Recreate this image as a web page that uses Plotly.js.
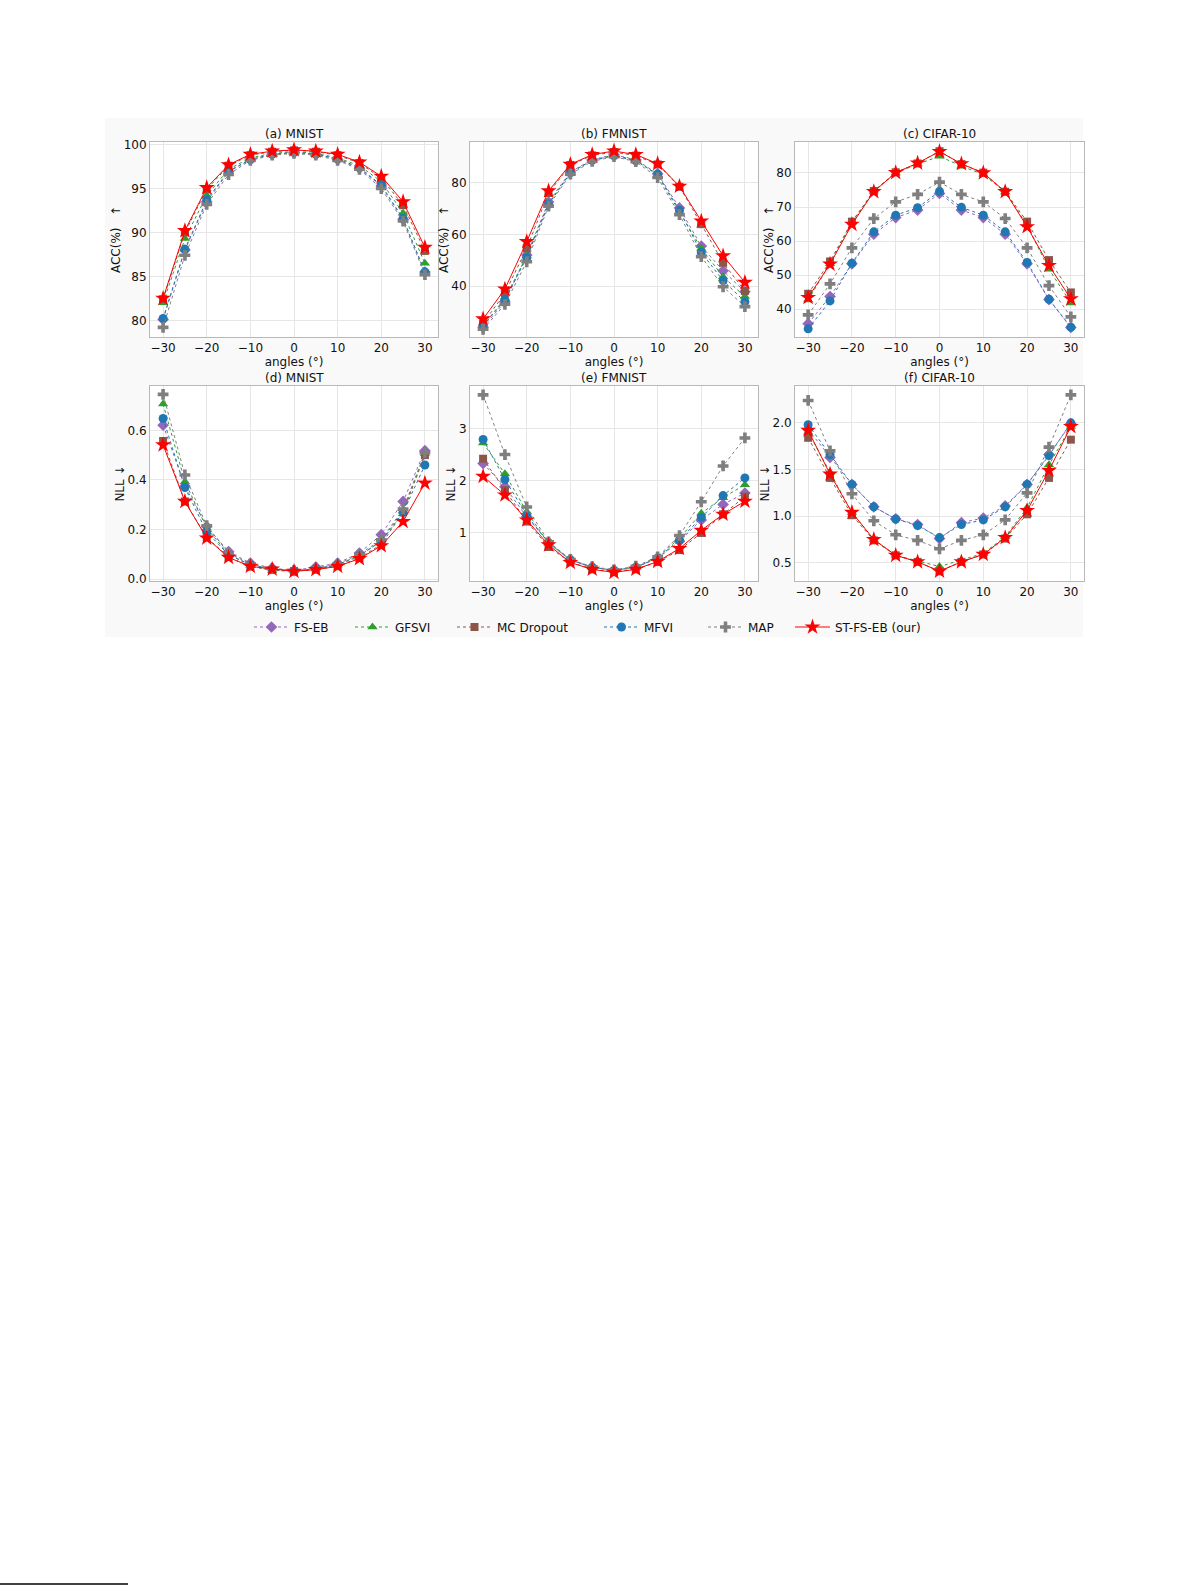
<!DOCTYPE html>
<html>
<head>
<meta charset="utf-8">
<script src="https://cdn.plot.ly/plotly-3.0.1.min.js"></script>
<style>
  html, body { margin: 0; padding: 0; background: #fff; }
  #myDiv { width: 1192px; height: 1585px; }
</style>
</head>
<body>
<div id="myDiv"></div>
<script>
var angles = [-30, -25, -20, -15, -10, -5, 0, 5, 10, 15, 20, 25, 30];
var methods = ['FS-EB', 'GFSVI', 'MC Dropout', 'MFVI', 'MAP', 'ST-FS-EB (our)'];
var panelTitles = ['(a) MNIST', '(b) FMNIST', '(c) CIFAR-10', '(d) MNIST', '(e) FMNIST', '(f) CIFAR-10'];

// rows follow the order of methods
var accMnist = [
  [80.1, 88.0, 93.5, 96.9, 98.3, 98.9, 99.1, 98.9, 98.3, 97.3, 95.3, 91.5, 85.5],
  [82.0, 89.3, 94.2, 97.2, 98.5, 99.0, 99.2, 99.0, 98.5, 97.6, 95.8, 92.2, 86.5],
  [82.4, 90.0, 94.9, 97.6, 98.8, 99.2, 99.35, 99.2, 98.8, 97.9, 96.2, 93.1, 87.9],
  [80.2, 88.1, 93.7, 97.0, 98.3, 98.9, 99.1, 98.9, 98.4, 97.4, 95.4, 91.6, 85.5],
  [79.2, 87.4, 93.2, 96.6, 98.2, 98.8, 99.0, 98.8, 98.2, 97.2, 95.0, 91.3, 85.2],
  [82.5, 90.2, 95.1, 97.7, 98.9, 99.25, 99.4, 99.25, 98.9, 98.0, 96.4, 93.5, 88.3]
];
var accFmnist = [
  [24.0, 33.9, 52.0, 72.6, 84.3, 89.0, 91.0, 89.0, 83.6, 70.3, 55.5, 45.9, 37.8],
  [24.6, 35.2, 51.6, 72.0, 84.0, 88.9, 90.8, 88.9, 83.0, 68.8, 54.6, 43.6, 35.9],
  [25.5, 37.2, 54.6, 76.1, 87.0, 90.7, 92.0, 90.6, 87.2, 78.5, 64.0, 49.0, 38.1],
  [24.6, 34.6, 51.0, 71.7, 83.9, 88.8, 90.5, 88.6, 83.4, 69.4, 53.0, 42.1, 33.9],
  [23.2, 32.9, 49.4, 71.0, 83.4, 88.4, 90.2, 88.3, 82.1, 67.7, 51.4, 39.7, 32.0],
  [27.2, 38.8, 57.2, 76.9, 87.2, 91.0, 92.4, 91.0, 87.5, 78.7, 65.2, 51.7, 41.4]
];
var accCifar = [
  [35.7, 43.7, 53.3, 62.0, 66.9, 69.1, 74.0, 69.1, 66.9, 62.0, 53.3, 42.8, 34.6],
  [42.7, 53.3, 65.5, 74.6, 80.0, 82.6, 84.9, 82.0, 79.6, 74.4, 64.7, 51.7, 41.8],
  [44.5, 54.0, 65.7, 74.7, 80.2, 82.8, 86.4, 82.6, 80.1, 74.5, 65.7, 54.4, 44.9],
  [34.2, 42.4, 53.5, 62.7, 67.6, 69.8, 74.6, 69.9, 67.6, 62.7, 53.7, 42.9, 34.7],
  [38.3, 47.4, 58.0, 66.6, 71.5, 73.7, 77.3, 73.7, 71.5, 66.6, 58.0, 46.9, 37.7],
  [43.4, 53.2, 64.9, 74.5, 80.1, 82.9, 86.3, 82.7, 80.0, 74.5, 64.2, 52.8, 43.0]
];
var nllMnist = [
  [0.621, 0.375, 0.212, 0.111, 0.064, 0.044, 0.034, 0.048, 0.064, 0.105, 0.179, 0.313, 0.518],
  [0.706, 0.393, 0.205, 0.100, 0.055, 0.034, 0.032, 0.040, 0.056, 0.092, 0.155, 0.275, 0.507],
  [0.557, 0.313, 0.168, 0.089, 0.050, 0.036, 0.032, 0.038, 0.052, 0.085, 0.140, 0.270, 0.500],
  [0.648, 0.369, 0.190, 0.098, 0.058, 0.040, 0.033, 0.042, 0.058, 0.095, 0.152, 0.268, 0.460],
  [0.745, 0.420, 0.215, 0.105, 0.060, 0.042, 0.034, 0.044, 0.060, 0.100, 0.158, 0.282, 0.510],
  [0.541, 0.313, 0.165, 0.087, 0.051, 0.040, 0.031, 0.038, 0.051, 0.082, 0.134, 0.232, 0.387]
];
var nllFmnist = [
  [2.33, 1.88, 1.30, 0.81, 0.48, 0.33, 0.27, 0.33, 0.50, 0.83, 1.24, 1.54, 1.76],
  [2.72, 2.13, 1.40, 0.79, 0.47, 0.32, 0.27, 0.32, 0.52, 0.89, 1.37, 1.67, 1.92],
  [2.42, 1.81, 1.21, 0.72, 0.43, 0.29, 0.24, 0.29, 0.43, 0.66, 0.99, 1.35, 1.69],
  [2.79, 2.02, 1.33, 0.80, 0.47, 0.33, 0.27, 0.33, 0.51, 0.85, 1.29, 1.71, 2.05],
  [3.65, 2.50, 1.49, 0.82, 0.48, 0.34, 0.28, 0.35, 0.53, 0.94, 1.59, 2.28, 2.82],
  [2.08, 1.72, 1.24, 0.76, 0.42, 0.29, 0.23, 0.29, 0.44, 0.69, 1.04, 1.35, 1.60]
];
var nllCifar = [
  [1.93, 1.63, 1.34, 1.10, 0.97, 0.91, 0.76, 0.93, 0.98, 1.11, 1.34, 1.66, 1.99],
  [1.90, 1.47, 1.04, 0.75, 0.58, 0.52, 0.46, 0.53, 0.60, 0.78, 1.09, 1.55, 1.96],
  [1.84, 1.41, 1.01, 0.74, 0.58, 0.51, 0.41, 0.51, 0.59, 0.76, 1.02, 1.41, 1.82],
  [1.98, 1.66, 1.34, 1.10, 0.97, 0.90, 0.77, 0.91, 0.96, 1.10, 1.34, 1.65, 2.00],
  [2.24, 1.70, 1.24, 0.95, 0.80, 0.74, 0.65, 0.74, 0.80, 0.96, 1.25, 1.74, 2.30],
  [1.92, 1.45, 1.04, 0.75, 0.58, 0.51, 0.41, 0.51, 0.59, 0.77, 1.06, 1.49, 1.96]
];

var panels = [accMnist, accFmnist, accCifar, nllMnist, nllFmnist, nllCifar];

var colors = ['#9467bd', '#2ca02c', '#8c564b', '#1f77b4', '#7f7f7f', '#ff0000'];
var symbols = ['diamond', 'triangle-up', 'square', 'circle', 'cross', 'star'];
var sizes = [9, 9, 8, 9, 9, 12];

var W = 1192, H = 1585;
function px(x) { return x / W; }
function py(y) { return 1 - y / H; }

// plot boxes in page pixels
var colX = [[150, 438], [470, 758], [795, 1084]];
var rowY = [[142, 337], [386, 581]];
var yRanges = [[78.1, 100.3], [20.2, 95.9], [31.8, 89.1], [-0.008, 0.779], [0.065, 3.82], [0.305, 2.395]];
var yTicks = [[80, 85, 90, 95, 100], [40, 60, 80], [40, 50, 60, 70, 80],
              [0, 0.2, 0.4, 0.6], [1, 2, 3], [0.5, 1.0, 1.5, 2.0]];
var yFormats = ['', '', '', '.1f', '', '.1f'];
// left edge of each legend entry along the bottom row
var legendLeft = [249, 350, 452, 599, 703, 790];

var font = 'DejaVu Sans, Arial, sans-serif';
var data = [];
var layout = {
  width: W, height: H,
  margin: {l: 0, r: 0, t: 0, b: 0},
  paper_bgcolor: '#ffffff',
  plot_bgcolor: 'rgba(0,0,0,0)',
  font: {family: font, size: 12, color: '#111'},
  showlegend: true,
  annotations: [],
  shapes: [
    {type: 'rect', xref: 'paper', yref: 'paper', x0: px(105), x1: px(1083), y0: py(637), y1: py(118),
     fillcolor: '#f9f9f9', line: {width: 0}, layer: 'below'},
    {type: 'line', xref: 'paper', yref: 'paper', x0: 0, x1: px(128), y0: py(1584), y1: py(1584),
     line: {color: '#000', width: 1.5}}
  ]
};

for (var k = 0; k < methods.length; k++) {
  layout[k === 0 ? 'legend' : 'legend' + (k + 1)] = {
    x: px(legendLeft[k]), xanchor: 'left', y: py(627), yanchor: 'middle',
    orientation: 'h', bgcolor: 'rgba(0,0,0,0)', itemwidth: 35,
    font: {family: font, size: 12, color: '#111'}
  };
}

for (var p = 0; p < 6; p++) {
  var r = Math.floor(p / 3), c = p % 3;
  var ax = p === 0 ? '' : String(p + 1);
  var rows = panels[p];
  layout.shapes.push({type: 'rect', xref: 'paper', yref: 'paper',
    x0: px(colX[c][0]), x1: px(colX[c][1]), y0: py(rowY[r][1]), y1: py(rowY[r][0]),
    fillcolor: '#ffffff', line: {width: 0}, layer: 'below'});
  for (var m = 0; m < methods.length; m++) {
    var isOurs = m === methods.length - 1;
    data.push({
      type: 'scatter', mode: 'lines+markers',
      x: angles, y: rows[m],
      name: methods[m], legendgroup: methods[m], showlegend: p === 0,
      legend: m === 0 ? 'legend' : 'legend' + (m + 1),
      xaxis: 'x' + ax, yaxis: 'y' + ax,
      line: {color: colors[m], width: 1, dash: isOurs ? 'solid' : 'dot'},
      marker: {symbol: symbols[m], size: sizes[m], color: colors[m], line: {width: 0}}
    });
  }
  var common = {
    showline: true, mirror: true, linecolor: '#b8b8b8', linewidth: 1,
    showgrid: true, gridcolor: '#e6e6e6', gridwidth: 1,
    zeroline: false, ticks: '', tickfont: {family: font, size: 12, color: '#111'}
  };
  layout['xaxis' + ax] = Object.assign({}, common, {
    domain: [px(colX[c][0]), px(colX[c][1])],
    anchor: 'y' + ax, range: [-33, 33], tickvals: [-30, -20, -10, 0, 10, 20, 30],
    title: {text: 'angles (°)', font: {family: font, size: 12, color: '#111'}, standoff: 2}
  });
  layout['yaxis' + ax] = Object.assign({}, common, {
    domain: [py(rowY[r][1]), py(rowY[r][0])],
    anchor: 'x' + ax, range: yRanges[p], tickvals: yTicks[p], tickformat: yFormats[p],
    title: {text: r === 0 ? 'ACC(%)\u00a0\u00a0 ↑' : 'NLL ↓', font: {family: font, size: 12, color: '#111'}, standoff: 0}
  });
  layout.annotations.push({
    xref: 'paper', yref: 'paper', x: (px(colX[c][0]) + px(colX[c][1])) / 2, y: py(rowY[r][0] - 8),
    xanchor: 'center', yanchor: 'middle', showarrow: false,
    text: panelTitles[p], font: {family: font, size: 12, color: '#111'}
  });
}

Plotly.newPlot('myDiv', data, layout, {displayModeBar: false, staticPlot: true});
</script>
</body>
</html>
